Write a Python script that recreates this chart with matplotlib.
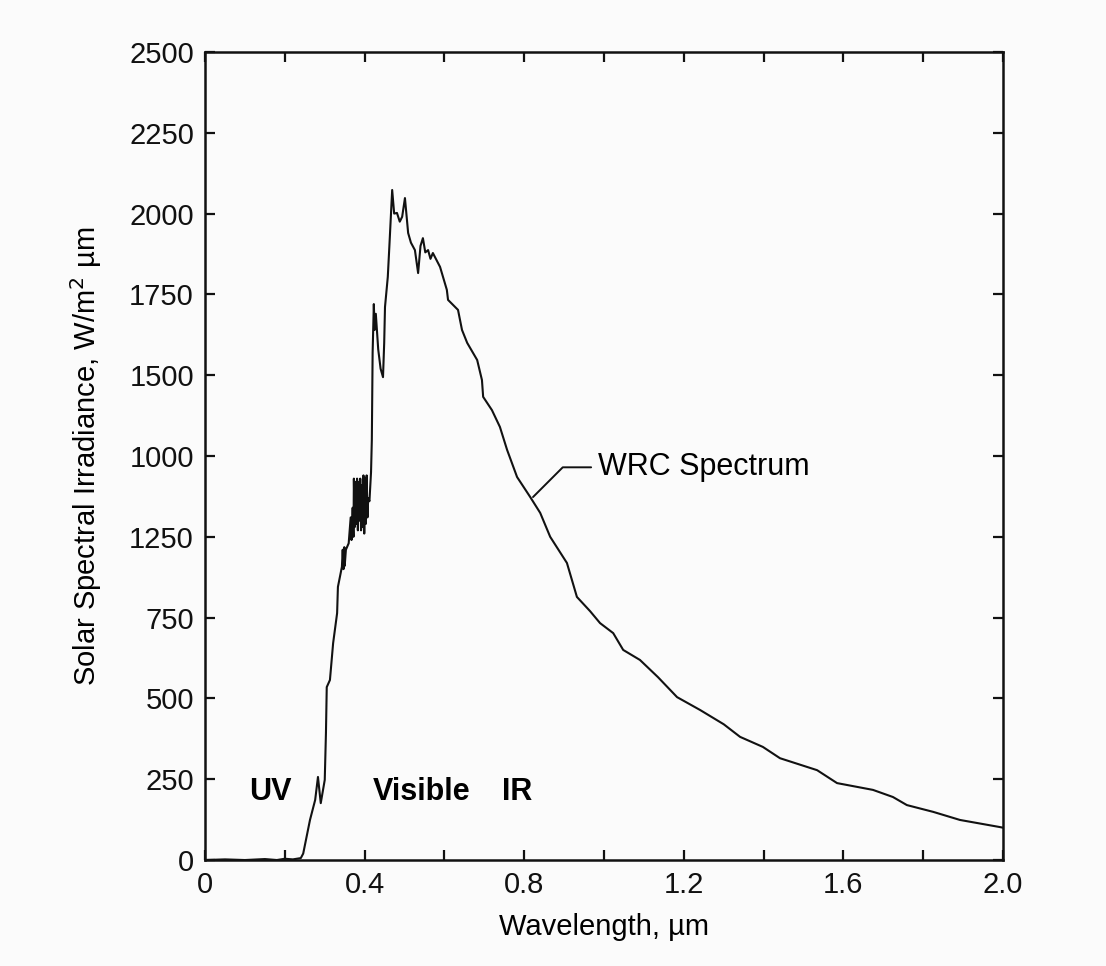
import numpy as np
import matplotlib
matplotlib.use("Agg")
import matplotlib.pyplot as plt

plt.rcParams['font.family'] = ['Liberation Sans', 'DejaVu Sans']

# WRC solar spectrum
wavelength = [0.0, 0.05, 0.10, 0.15, 0.18, 0.20, 0.22, 0.24, 0.246, 0.263, 0.276, 0.283,
              0.290, 0.300, 0.303, 0.305, 0.313, 0.321, 0.331, 0.333, 0.343, 0.345,
              0.347, 0.349, 0.350, 0.353, 0.360, 0.365, 0.367, 0.370, 0.372, 0.373,
              0.375, 0.377, 0.379, 0.381, 0.383, 0.385, 0.387, 0.389, 0.391, 0.393,
              0.395, 0.397, 0.399, 0.401, 0.403, 0.405, 0.407, 0.409, 0.412, 0.416,
              0.418, 0.420, 0.423, 0.425, 0.428, 0.434, 0.440, 0.446, 0.449, 0.451,
              0.458, 0.462, 0.469, 0.474, 0.481, 0.488, 0.494, 0.501, 0.509, 0.516,
              0.526, 0.534, 0.540, 0.546, 0.552, 0.559, 0.565, 0.571, 0.589, 0.606,
              0.609, 0.634, 0.644, 0.657, 0.682, 0.694, 0.697, 0.719, 0.739, 0.757,
              0.782, 0.815, 0.840, 0.865, 0.907, 0.932, 0.965, 0.990, 1.023, 1.048,
              1.090, 1.135, 1.183, 1.241, 1.300, 1.341, 1.398, 1.441, 1.534, 1.584,
              1.674, 1.724, 1.759, 1.825, 1.892, 1.992, 2.0]
irradiance = [0, 2, 0, 3, 0, 4, 2, 6, 20, 124, 186, 257,
              176, 248, 393, 535, 557, 671, 764, 845, 907, 960,
              900, 968, 910, 960, 980, 1060, 990, 1090, 1000, 1180,
              1030, 1170, 1040, 1180, 1020, 1170, 1050, 1180, 1020, 1160,
              1030, 1190, 1010, 1180, 1040, 1190, 1060, 1120, 1110, 1200,
              1300, 1570, 1720, 1640, 1690, 1580, 1520, 1494, 1600, 1711,
              1804, 1900, 2073, 2000, 2002, 1975, 1990, 2048, 1940, 1910,
              1887, 1816, 1900, 1924, 1880, 1887, 1860, 1878, 1835, 1764,
              1733, 1702, 1640, 1600, 1547, 1485, 1433, 1392, 1340, 1269,
              1185, 1123, 1074, 1000, 919, 814, 770, 733, 702, 650,
              619, 566, 504, 464, 420, 381, 350, 315, 278, 238,
              217, 195, 170, 149, 124, 102, 100]

x_ticks = [0.0, 0.2, 0.4, 0.6, 0.8, 1.0, 1.2, 1.4, 1.6, 1.8, 2.0]
x_ticklabels = ['0', '', '0.4', '', '0.8', '', '1.2', '', '1.6', '', '2.0']
y_ticks = [0, 250, 500, 750, 1000, 1250, 1500, 1750, 2000, 2250, 2500]
# labels as printed in the original (1000/1250 appear swapped)
y_ticklabels = ['0', '250', '500', '750', '1250', '1000', '1500', '1750', '2000', '2250', '2500']

band_labels = ['UV', 'Visible', 'IR']
band_x = [0.11, 0.42, 0.745]

fig = plt.figure(figsize=(11.06, 9.66), dpi=100, facecolor='#fbfbfb')
ax = fig.add_axes([0.1854, 0.1097, 0.7215, 0.8365])
ax.set_facecolor('#fbfbfb')

ax.plot(wavelength, irradiance, color='#111111', lw=1.5)

ax.set_xlim(0, 2.0)
ax.set_ylim(0, 2500)
ax.set_xticks(x_ticks)
ax.set_xticklabels(x_ticklabels)
ax.set_yticks(y_ticks)
ax.set_yticklabels(y_ticklabels)
ax.tick_params(direction='in', length=7, width=1.6, labelsize=21,
               top=True, right=True, pad=8, colors='#111111')
for s in ax.spines.values():
    s.set_linewidth(1.8)
    s.set_color('#111111')

ax.set_xlabel('Wavelength, µm', fontsize=21, labelpad=10)
ax.set_ylabel('Solar Spectral Irradiance, W/m$^2$ µm', fontsize=21, labelpad=18)

for lbl, bx in zip(band_labels, band_x):
    ax.text(bx, 212, lbl, fontsize=22, fontweight='bold', va='center', ha='left')

ax.annotate('WRC Spectrum', xy=(0.822, 1123), xytext=(0.985, 1215),
            fontsize=22, va='center', ha='left',
            arrowprops=dict(arrowstyle='-', color='#111111', lw=1.4,
                            shrinkA=3, shrinkB=0,
                            connectionstyle='angle,angleA=180,angleB=45,rad=0'))

fig.savefig('out.png', dpi=100, facecolor=fig.get_facecolor())
